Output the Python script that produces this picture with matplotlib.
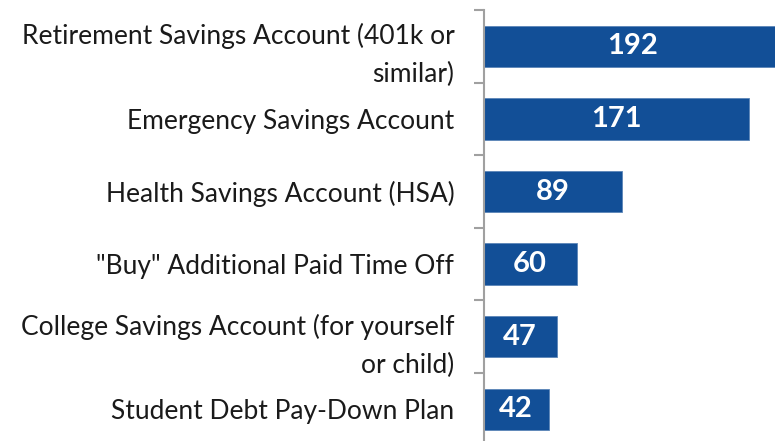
import numpy as np
import matplotlib
matplotlib.use('Agg')
import matplotlib.pyplot as plt
from matplotlib.ticker import FixedLocator

categories = ['Retirement Savings Account (401k or\nsimilar)',
              'Emergency Savings Account',
              'Health Savings Account (HSA)',
              '"Buy" Additional Paid Time Off',
              'College Savings Account (for yourself\nor child)',
              'Student Debt Pay-Down Plan']
values = [192, 171, 89, 60, 47, 42]

plt.rcParams['font.family'] = ['Lato', 'DejaVu Sans']

W, H = 775, 441
fig = plt.figure(figsize=(W / 100, H / 100), dpi=100)
# axes runs past the right and bottom figure edge, like the original crop
x0 = 483.5 / W
px_per_unit = 265.8 / 171
ax_w = 200 * px_per_unit / W
top = 1 - 10 / H
bot = 1 - (10 + 6 * 72.6) / H
ax = fig.add_axes([x0, bot, ax_w, top - bot])

y = np.arange(len(categories))
bars = ax.barh(y, values, height=0.57, color='#124F97', edgecolor='#5B85B8', linewidth=0.6)
for b, v in zip(bars, values):
    ax.text(b.get_width() / 2, b.get_y() + b.get_height() / 2, str(v),
            ha='center', va='center', color='white', fontsize=21, fontweight='bold')

ax.set_xlim(0, 200)
ax.set_ylim(len(categories) - 0.5, -0.5)
ax.set_yticks(y)
ax.set_yticklabels(categories, fontsize=19, color='#1a1a1a', linespacing=1.65)
ax.yaxis.set_minor_locator(FixedLocator(np.arange(-0.5, len(categories), 1)))
ax.tick_params(axis='y', which='major', length=0, pad=21)
ax.tick_params(axis='y', which='minor', length=7, width=1.5, color='#A0A0A0', direction='out')
ax.set_xticks([])
for s in ['top', 'right', 'bottom']:
    ax.spines[s].set_visible(False)
ax.spines['left'].set_color('#A0A0A0')
ax.spines['left'].set_linewidth(1.5)

fig.savefig('out.png', dpi=100)
